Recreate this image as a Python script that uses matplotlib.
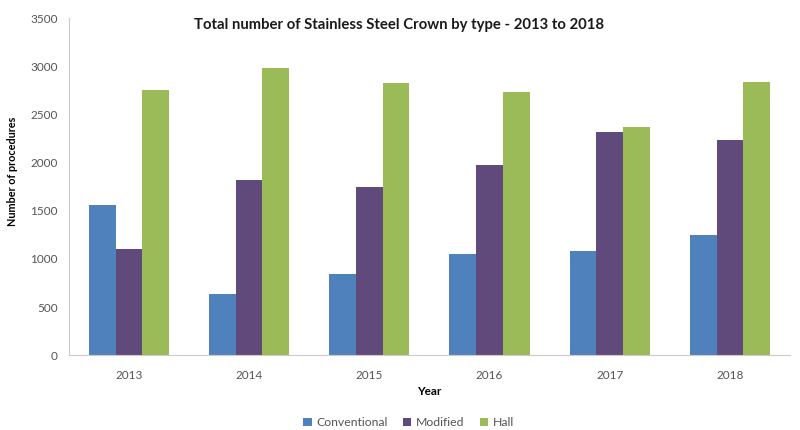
import numpy as np
import matplotlib.pyplot as plt

plt.rcParams['font.family'] = ['Lato', 'DejaVu Sans']

years = ['2013', '2014', '2015', '2016', '2017', '2018']
conventional = [1560, 630, 840, 1055, 1085, 1250]
modified = [1100, 1820, 1750, 1970, 2320, 2230]
hall = [2750, 2980, 2830, 2730, 2370, 2840]

series = [('Conventional', conventional, '#4F81BD'),
          ('Modified', modified, '#604A7B'),
          ('Hall', hall, '#9BBB59')]

fig = plt.figure(figsize=(8, 4.3), dpi=100)
ax = fig.add_axes([0.086, 0.174, 0.9015, 0.784])

x = np.arange(len(years))
w = 0.222
for i, (name, vals, col) in enumerate(series):
    ax.bar(x + (i - 1) * w, vals, width=w, color=col, label=name)

ax.set_xlim(-0.5, len(years) - 0.5)
ax.set_ylim(0, 3500)
ax.set_yticks(range(0, 3501, 500))
ax.set_xticks(x)
ax.set_xticklabels(years)
ax.tick_params(axis='both', length=0, labelsize=8.5, colors='#555555')
ax.tick_params(axis='y', pad=8)
ax.tick_params(axis='x', pad=11)

for s in ['top', 'right']:
    ax.spines[s].set_visible(False)
for s in ['left', 'bottom']:
    ax.spines[s].set_color('#D0C8CC')
    ax.spines[s].set_linewidth(0.8)

ax.set_xlabel('Year', fontsize=8.5, fontweight='bold', labelpad=3)
ax.set_ylabel('Number of procedures', fontsize=7.8, fontweight='bold')
ax.yaxis.set_label_coords(-0.071, 0.546)
fig.text(0.499, 0.942, 'Total number of Stainless Steel Crown by type - 2013 to 2018',
         ha='center', va='center', fontsize=10.7, fontweight='bold', color='#1a1a1a')

fig.legend(loc='center', bbox_to_anchor=(0.511, 0.017), ncol=3, frameon=False,
           fontsize=8.8, handlelength=0.7, handleheight=0.7, handletextpad=0.4,
           columnspacing=1.2, labelcolor='#555555')

fig.savefig('out.png', dpi=100)
